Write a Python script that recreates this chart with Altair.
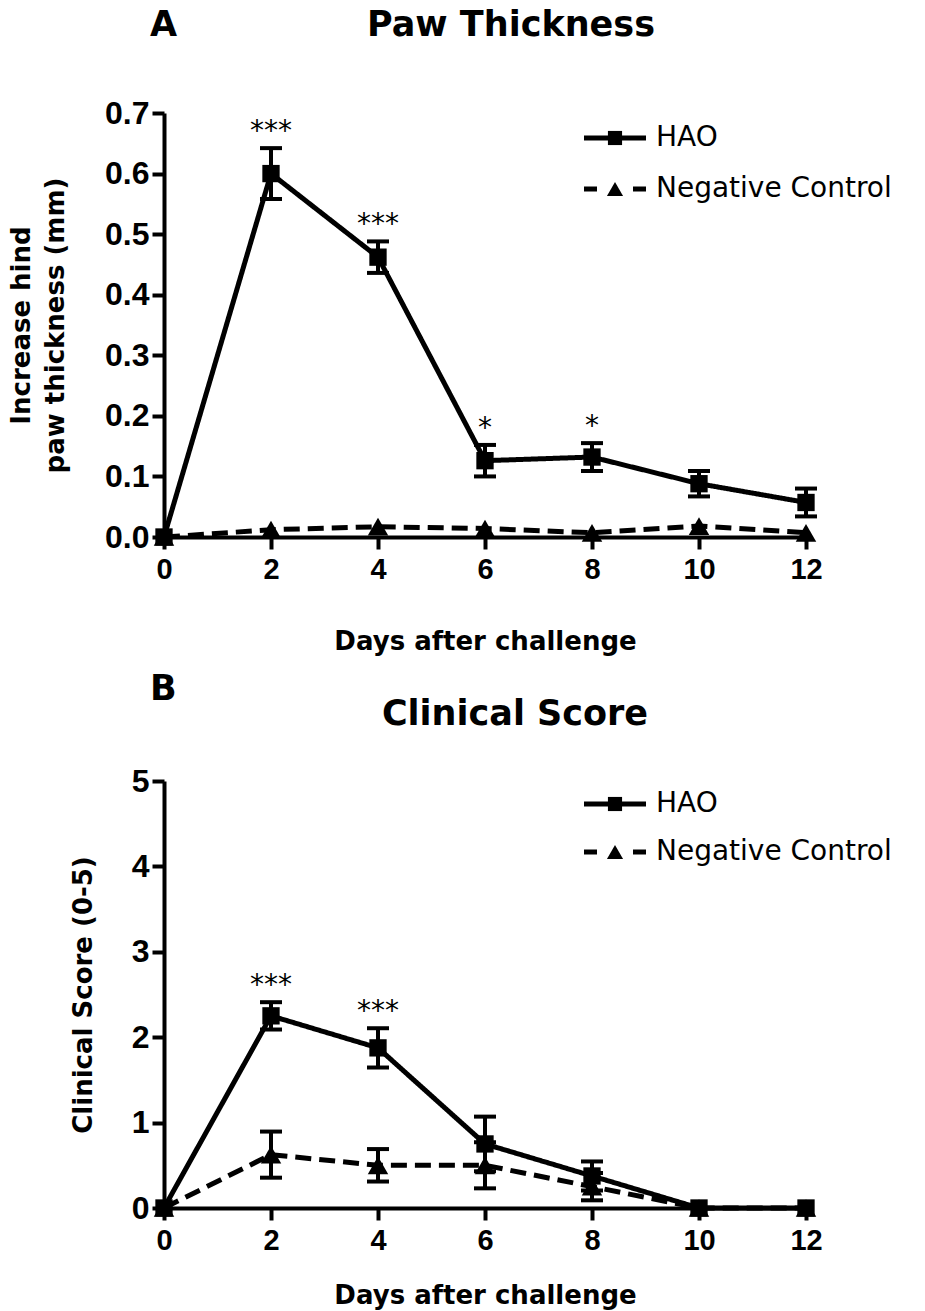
import altair as alt
import pandas as pd

days = [0, 2, 4, 6, 8, 10, 12]
groups = ["HAO", "Negative Control"]

# Panel A: increase in hind paw thickness (mm), mean and SEM
paw_hao_mean = [0.0, 0.600, 0.462, 0.126, 0.132, 0.088, 0.057]
paw_hao_sem = [0.0, 0.042, 0.026, 0.026, 0.023, 0.021, 0.023]
paw_nc_mean = [0.0, 0.012, 0.017, 0.014, 0.007, 0.018, 0.007]
paw_nc_sem = [0.0, 0.0, 0.0, 0.0, 0.0, 0.0, 0.0]
paw_sig = ["", "***", "***", "*", "*", "", ""]

# Panel B: clinical score (0-5), mean and SEM
clin_hao_mean = [0.0, 2.25, 1.875, 0.75, 0.375, 0.0, 0.0]
clin_hao_sem = [0.0, 0.16, 0.23, 0.32, 0.17, 0.0, 0.0]
clin_nc_mean = [0.0, 0.625, 0.5, 0.5, 0.25, 0.0, 0.0]
clin_nc_sem = [0.0, 0.27, 0.19, 0.27, 0.16, 0.0, 0.0]
clin_sig = ["", "***", "***", "", "", "", ""]

paw_ticks = [0.0, 0.1, 0.2, 0.3, 0.4, 0.5, 0.6, 0.7]
clin_ticks = [0, 1, 2, 3, 4, 5]
day_ticks = [0, 2, 4, 6, 8, 10, 12]

TITLE_FONT = "DejaVu Sans"
LABEL_FONT = "Liberation Sans, Arial, sans-serif"
LW = 5


def long_table(hm, hs, nm, ns):
    rows = []
    for g, m, s in ((groups[0], hm, hs), (groups[1], nm, ns)):
        for d, mv, sv in zip(days, m, s):
            rows.append({"day": d, "group": g, "mean": mv, "sem": sv,
                         "lo": mv - sv, "hi": mv + sv})
    return pd.DataFrame(rows)


def panel(hm, hs, nm, ns, sig, ydom, yticks, yfmt, ytitle, letter, title,
          height, y_title_pad, x_title_pad, letter_y, title_xy, leg_y):
    df = long_table(hm, hs, nm, ns)
    sig_df = pd.DataFrame({"day": days, "hi": [m + s for m, s in zip(hm, hs)], "sig": sig})
    sig_df = sig_df[sig_df["sig"] != ""]

    x = alt.X("day:Q", scale=alt.Scale(domain=[0, 12], nice=False, zero=False),
              axis=alt.Axis(values=day_ticks, format="d", title="Days after challenge",
                            grid=False, tickSize=12, tickWidth=4, domainWidth=4,
                            domainColor="black", tickColor="black", labelFont=LABEL_FONT,
                            labelFontWeight="bold", labelFontSize=29, labelColor="black",
                            labelPadding=6, labelFlush=False,
                            titleFont=TITLE_FONT, titleFontSize=26, titleFontWeight="bold",
                            titleColor="black", titlePadding=x_title_pad))
    y_axis = alt.Axis(values=yticks, format=yfmt, title=ytitle, grid=False,
                      tickSize=12, tickWidth=4, domainWidth=4, domainColor="black",
                      tickColor="black", labelFont=LABEL_FONT, labelFontWeight="bold",
                      labelFontSize=32, labelColor="black", labelPadding=3,
                      labelFlush=False,
                      titleFont=TITLE_FONT, titleFontSize=26, titleFontWeight="bold",
                      titleColor="black", titlePadding=y_title_pad, titleLineHeight=34)
    y = alt.Y("mean:Q", scale=alt.Scale(domain=ydom, nice=False), axis=y_axis)

    base = alt.Chart(df)
    dash = alt.StrokeDash("group:N", scale=alt.Scale(domain=groups, range=[[1, 0], [16, 8]]),
                          legend=None)
    lines = base.mark_line(color="black", strokeWidth=LW).encode(
        x=x, y=y, strokeDash=dash, detail="group:N",
        order=alt.Order("day:Q"))
    err = base.transform_filter("datum.sem > 0")
    rules = err.mark_rule(color="black", strokeWidth=4).encode(
        x="day:Q", y="lo:Q", y2="hi:Q")
    cap_lo = err.mark_tick(color="black", orient="horizontal", size=22, thickness=4,
                           opacity=1).encode(x="day:Q", y="lo:Q")
    cap_hi = err.mark_tick(color="black", orient="horizontal", size=22, thickness=4,
                           opacity=1).encode(x="day:Q", y="hi:Q")
    pts = base.mark_point(filled=True, color="black", opacity=1).encode(
        x="day:Q", y="mean:Q",
        shape=alt.Shape("group:N", scale=alt.Scale(domain=groups,
                                                   range=["square", "triangle-up"]),
                        legend=None),
        size=alt.Size("group:N", scale=alt.Scale(domain=groups, range=[300, 420]),
                      legend=None))
    stars = alt.Chart(sig_df).mark_text(font=TITLE_FONT, fontSize=28, color="black",
                                        baseline="alphabetic", dy=-8).encode(
        x="day:Q", y="hi:Q", text="sig:N")

    # legend drawn by hand
    leg_df = pd.DataFrame({"label": [groups[0]]})
    leg_df2 = pd.DataFrame({"label": [groups[1]]})
    l1 = alt.Chart(leg_df).mark_rule(color="black", strokeWidth=LW).encode(
        x=alt.value(420), x2=alt.value(482), y=alt.value(leg_y[0]))
    l1p = alt.Chart(leg_df).mark_point(shape="square", filled=True, color="black",
                                       opacity=1, size=200).encode(
        x=alt.value(451), y=alt.value(leg_y[0]))
    l1t = alt.Chart(leg_df).mark_text(font=TITLE_FONT, fontSize=28, align="left",
                                      baseline="middle", color="black").encode(
        x=alt.value(492), y=alt.value(leg_y[0]), text="label:N")
    l2 = alt.Chart(leg_df2).mark_rule(color="black", strokeWidth=LW,
                                      strokeDash=[13, 36, 13]).encode(
        x=alt.value(420), x2=alt.value(482), y=alt.value(leg_y[1]))
    l2p = alt.Chart(leg_df2).mark_point(shape="triangle-up", filled=True, color="black",
                                        opacity=1, size=260).encode(
        x=alt.value(451), y=alt.value(leg_y[1]))
    l2t = alt.Chart(leg_df2).mark_text(font=TITLE_FONT, fontSize=28, align="left",
                                       baseline="middle", color="black").encode(
        x=alt.value(492), y=alt.value(leg_y[1]), text="label:N")

    let_df = pd.DataFrame({"t": [letter]})
    let = alt.Chart(let_df).mark_text(font=TITLE_FONT, fontSize=35, fontWeight="bold",
                                      align="left", baseline="middle", color="black").encode(
        x=alt.value(-14), y=alt.value(letter_y), text="t:N")
    tit_df = pd.DataFrame({"t": [title]})
    tit = alt.Chart(tit_df).mark_text(font=TITLE_FONT, fontSize=35, fontWeight="bold",
                                      align="center", baseline="middle", color="black").encode(
        x=alt.value(title_xy[0]), y=alt.value(title_xy[1]), text="t:N")

    return alt.layer(lines, rules, cap_lo, cap_hi, pts, stars,
                     l1, l1p, l1t, l2, l2p, l2t, let, tit).properties(
        width=642, height=height)


A = panel(paw_hao_mean, paw_hao_sem, paw_nc_mean, paw_nc_sem, paw_sig,
          [0, 0.7], paw_ticks, ".1f", ["Increase hind", "paw thickness (mm)"],
          "A", "Paw Thickness", 424, 36, 44, -88, (347, -88), (25, 76))
B = panel(clin_hao_mean, clin_hao_sem, clin_nc_mean, clin_nc_sem, clin_sig,
          [0, 5], clin_ticks, "d", "Clinical Score (0-5)",
          "B", "Clinical Score", 427, 35, 27, -92, (351, -67), (23, 71))

chart = alt.vconcat(A, B, spacing=244, bounds="flush").properties(
    padding={"left": 0, "top": 0, "right": 5, "bottom": 5}
).configure(background="white").configure_view(strokeWidth=0, stroke=None)

chart.save("out.html", embed_options={"renderer": "svg", "actions": False})
